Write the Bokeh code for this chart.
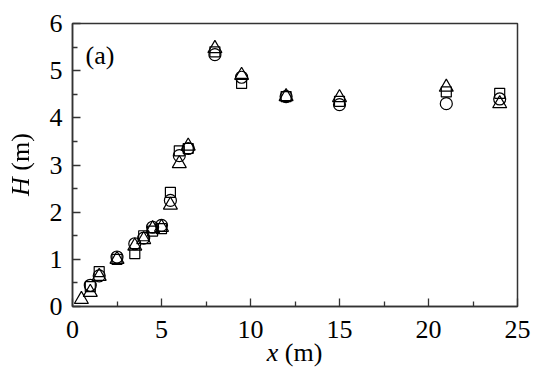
from bokeh.plotting import figure
from bokeh.models import Label, FixedTicker, Range1d, Div
from bokeh.layouts import row, column
from bokeh.embed import file_html
from bokeh.resources import INLINE

# data
x_sq = [1, 1.5, 2.5, 3.5, 4, 4.5, 5, 5.5, 6, 6.5, 8, 9.5, 12, 15, 21, 24]
h_sq = [0.42, 0.74, 1.0, 1.12, 1.5, 1.6, 1.65, 2.42, 3.3, 3.35, 5.4, 4.73, 4.45, 4.35, 4.55, 4.52]
x_ci = [1, 1.5, 2.5, 3.5, 4, 4.5, 5, 5.5, 6, 6.5, 8, 9.5, 12, 15, 21, 24]
h_ci = [0.45, 0.65, 1.05, 1.33, 1.45, 1.68, 1.72, 2.25, 3.2, 3.35, 5.34, 4.86, 4.45, 4.28, 4.3, 4.4]
x_tr = [0.5, 1, 1.5, 2.5, 3.5, 4, 4.5, 5, 5.5, 6, 6.5, 8, 9.5, 12, 15, 21, 24]
h_tr = [0.15, 0.3, 0.64, 1.0, 1.28, 1.42, 1.65, 1.68, 2.15, 3.03, 3.4, 5.47, 4.9, 4.45, 4.43, 4.65, 4.3]
x_ticks = [0, 5, 10, 15, 20, 25]
y_ticks = [0, 1, 2, 3, 4, 5, 6]
x_title = ("x", "(m)")
y_title = ("H", "(m)")

FONT = "Liberation Serif"

p = figure(width=494, height=354, output_backend="svg", toolbar_location=None,
           x_range=Range1d(0, 25), y_range=Range1d(0, 6),
           min_border_left=32, min_border_right=17, min_border_top=23, min_border_bottom=48)
p.grid.visible = False
p.outline_line_color = "#333333"
p.outline_line_width = 1.5
p.background_fill_color = "white"

for ax, ticks in ((p.xaxis, x_ticks), (p.yaxis, y_ticks)):
    ax.ticker = FixedTicker(ticks=ticks,
                            minor_ticks=[t + (ticks[1] - ticks[0]) / 2 for t in ticks[:-1]])
    ax.major_tick_in = 8
    ax.major_tick_out = 0
    ax.minor_tick_in = 5
    ax.minor_tick_out = 0
    ax.axis_line_color = "#333333"
    ax.axis_line_width = 1.5
    ax.major_tick_line_color = "#333333"
    ax.minor_tick_line_color = "#333333"
    ax.major_tick_line_width = 1.3
    ax.minor_tick_line_width = 1.3
    ax.major_label_text_font = FONT
    ax.major_label_text_font_size = "26px"
    ax.major_label_text_color = "black"
p.xaxis.major_label_standoff = 14
p.yaxis.major_label_standoff = 10

common = dict(fill_color=None, line_color="black", line_width=1.2)
p.scatter(x_sq, h_sq, marker="square", size=10, **common)
p.scatter(x_ci, h_ci, marker="circle", size=12, **common)
p.scatter(x_tr, h_tr, marker="triangle", size=14, **common)

p.add_layout(Label(x=0.73, y=5.32, text="(a)", text_font=FONT, text_font_size="26px",
                   text_color="black", text_align="left", text_baseline="middle"))

font_css = "font-family:'Liberation Serif',serif;font-size:26px;line-height:26px;color:black;white-space:nowrap;"

ylab = Div(width=40, height=369, margin=0, styles={"overflow": "visible"}, text=(
    '<div style="position:relative;width:40px;height:369px;filter:grayscale(100%);">'
    '<div style="position:absolute;left:0;top:0;width:283px;height:40px;padding-top:8px;'
    'box-sizing:border-box;text-align:center;transform-origin:0 0;'
    'transform:translate(0px,306px) rotate(-90deg);' + font_css + '">'
    '<i>' + y_title[0] + '</i> ' + y_title[1] + '</div></div>'))

xlab = Div(width=494, height=15, margin=0, styles={"overflow": "visible"}, text=(
    '<div style="position:relative;width:494px;height:15px;">'
    '<div style="position:absolute;left:32px;top:-14px;width:445px;text-align:center;' + font_css + '">'
    '<i>' + x_title[0] + '</i> ' + x_title[1] + '</div></div>'))

layout = row(ylab, column(p, xlab, spacing=0), spacing=0)

open("out.html", "w").write(file_html(layout, INLINE))
